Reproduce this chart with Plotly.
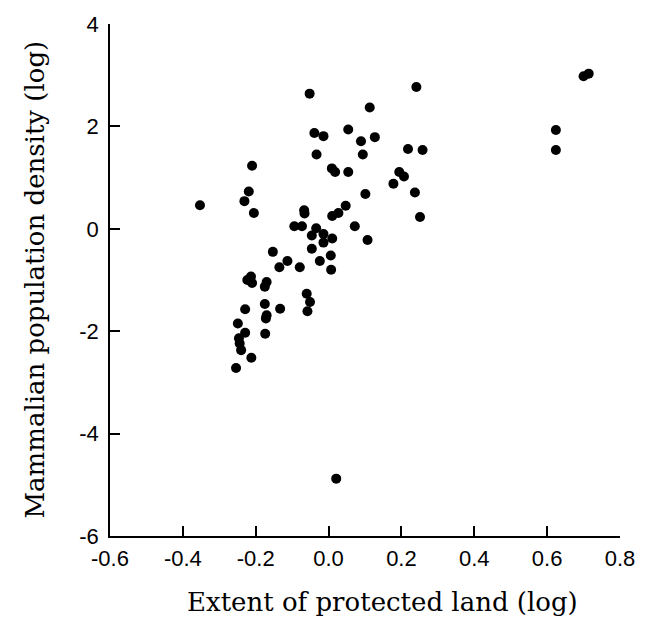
import plotly.graph_objects as go

# Extent of protected land (log)
x_vals = [-0.353, -0.210, -0.219, -0.231, -0.205, -0.052, 0.113, 0.241, -0.039, -0.014,
          0.054, 0.089, 0.127, -0.033, 0.094, 0.009, 0.018, 0.054, 0.218, 0.258,
          0.194, 0.207, 0.178, 0.237, 0.101, 0.251, -0.067, -0.066, 0.047, 0.010,
          0.027, 0.072, -0.094, -0.073, -0.034, -0.046, -0.014, 0.010, 0.107, -0.014,
          -0.046, 0.006, -0.024, 0.007, -0.153, -0.113, -0.135, -0.079, -0.223, -0.213,
          -0.210, -0.170, -0.175, -0.060, -0.051, -0.058, -0.229, -0.175, -0.133, -0.170,
          -0.172, -0.249, -0.229, -0.246, -0.244, -0.240, -0.174, -0.212, -0.254, 0.021,
          0.700, 0.714, 0.624, 0.624]
# Mammalian population density (log)
y_vals = [0.46, 1.23, 0.73, 0.54, 0.31, 2.64, 2.37, 2.77, 1.87, 1.81,
          1.94, 1.71, 1.79, 1.45, 1.45, 1.18, 1.11, 1.11, 1.56, 1.54,
          1.11, 1.02, 0.88, 0.71, 0.68, 0.23, 0.36, 0.30, 0.45, 0.25,
          0.31, 0.05, 0.05, 0.05, 0.01, -0.13, -0.10, -0.19, -0.22, -0.27,
          -0.39, -0.52, -0.63, -0.80, -0.45, -0.63, -0.75, -0.75, -1.00, -0.93,
          -1.06, -1.04, -1.13, -1.27, -1.43, -1.61, -1.57, -1.47, -1.56, -1.69,
          -1.75, -1.85, -2.03, -2.14, -2.24, -2.37, -2.05, -2.52, -2.72, -4.88,
          2.98, 3.03, 1.93, 1.54]

x_ticks = [-0.6, -0.4, -0.2, 0.0, 0.2, 0.4, 0.6, 0.8]
x_tick_text = ["-0.6", "-0.4", "-0.2", "0.0", "0.2", "0.4", "0.6", "0.8"]
y_ticks = [-6, -4, -2, 0, 2, 4]
y_tick_text = ["-6", "-4", "-2", "0", "2", "4"]

x_title = "Extent of protected land (log)"
y_title = "Mammalian population density (log)"

fig = go.Figure()
fig.add_trace(go.Scatter(
    x=x_vals, y=y_vals, mode="markers",
    marker=dict(color="black", size=10, line=dict(width=0)),
    showlegend=False, hoverinfo="skip",
))

tick_font = dict(family="Liberation Sans", size=22, color="black")
title_font = dict(family="DejaVu Serif", size=26, color="black")

fig.update_layout(
    width=647, height=643,
    margin=dict(l=110, r=19, t=20, b=107, pad=0),
    paper_bgcolor="white", plot_bgcolor="white",
    xaxis=dict(
        range=[-0.6, 0.8], tickmode="array", tickvals=x_ticks, ticktext=x_tick_text,
        showgrid=False, zeroline=False, showline=True, linecolor="black", linewidth=1.5,
        ticks="inside", ticklen=10, tickwidth=1.5, tickcolor="black",
        tickfont=tick_font, ticklabelstandoff=2,
    ),
    yaxis=dict(
        range=[-6, 4], tickmode="array", tickvals=y_ticks, ticktext=y_tick_text,
        showgrid=False, zeroline=False, showline=True, linecolor="black", linewidth=1.5,
        ticks="inside", ticklen=10, tickwidth=1.5, tickcolor="black",
        tickfont=tick_font, ticklabelstandoff=5,
    ),
    annotations=[
        dict(text=x_title, xref="paper", yref="paper", x=0.535, y=-0.128,
             xanchor="center", yanchor="middle", showarrow=False, font=title_font),
        dict(text=y_title, xref="paper", yref="paper", x=-0.148, y=0.5,
             xanchor="center", yanchor="middle", showarrow=False, textangle=-90,
             font=title_font),
    ],
)

fig.write_html("out.html")
